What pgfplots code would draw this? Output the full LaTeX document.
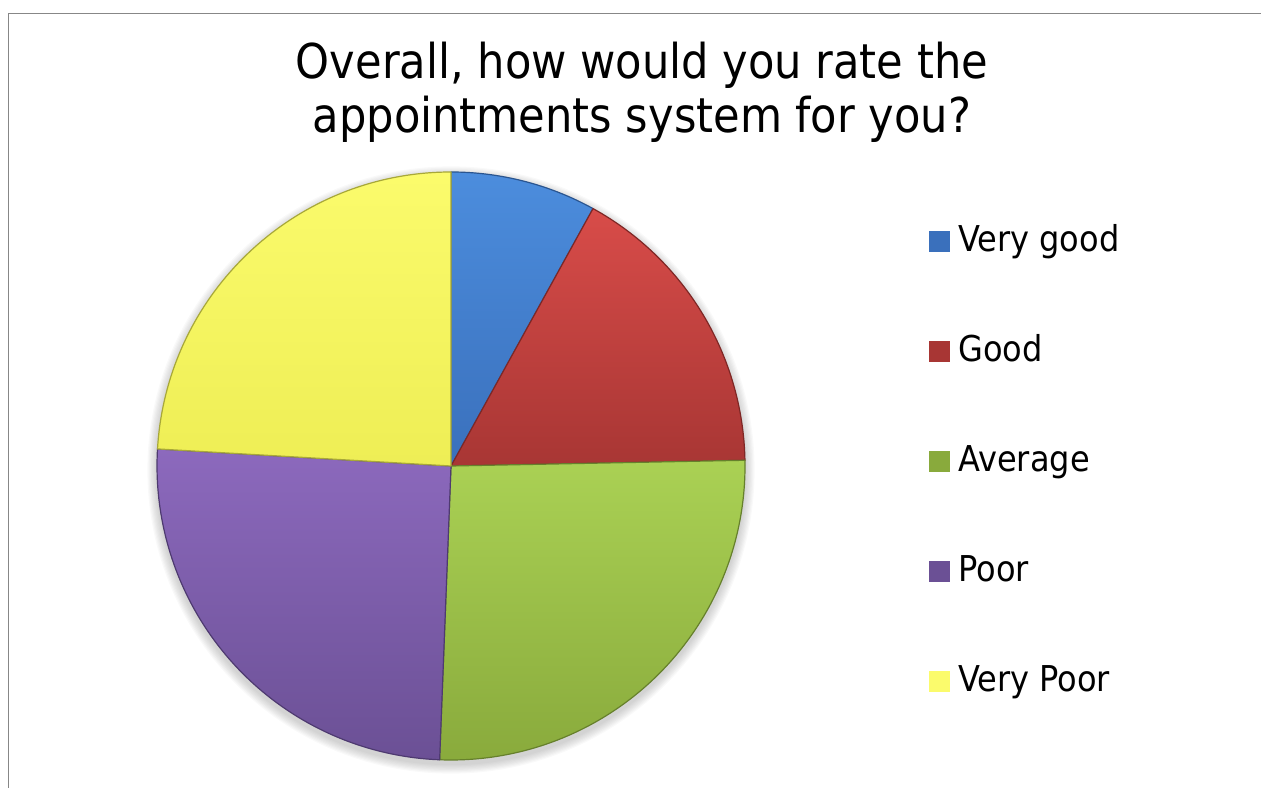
\documentclass[border=0pt]{standalone}
\usepackage{pgfplots}
\pgfplotsset{compat=1.18}
\usepackage{pgfplotstable}
\usepackage{fontspec}
\setmainfont{DejaVu Sans Condensed}

\definecolor{pie0t}{HTML}{4C8DDD}\definecolor{pie0b}{HTML}{3A70BC}\definecolor{pie0e}{HTML}{2A5590}
\definecolor{pie1t}{HTML}{D84C49}\definecolor{pie1b}{HTML}{A83634}\definecolor{pie1e}{HTML}{7E2725}
\definecolor{pie2t}{HTML}{AAD154}\definecolor{pie2b}{HTML}{89AA3C}\definecolor{pie2e}{HTML}{66802C}
\definecolor{pie3t}{HTML}{8C69BD}\definecolor{pie3b}{HTML}{6B5095}\definecolor{pie3e}{HTML}{4E3A70}
\definecolor{pie4t}{HTML}{FBFB6C}\definecolor{pie4b}{HTML}{EEEE55}\definecolor{pie4e}{HTML}{A8A838}
\definecolor{framegray}{HTML}{878787}

\pgfplotstableread{
label value
{Very good} 13
Good 27
Average 42
Poor 41
{Very Poor} 39
}\piedata

\begin{document}
\begin{tikzpicture}
\useasboundingbox (0,0) rectangle (630.5pt,393.5pt);
% chart area frame
\draw[line width=0.6pt, color=framegray] (4.25pt,-2pt) -- (4.25pt,386.6pt) -- (634pt,386.6pt);
% title
\node[anchor=base, inner sep=0pt, font=\fontsize{24pt}{28pt}\selectfont] at (321pt,354pt) {Overall, how would you rate the};
\node[anchor=base, inner sep=0pt, font=\fontsize{24pt}{28pt}\selectfont] at (321pt,327pt) {appointments system for you?};
% cumulative sums and angles
\def\runsum{0}
\pgfplotsforeachungrouped \i in {0,...,4}{%
  \expandafter\xdef\csname pieS\i\endcsname{\runsum}%
  \pgfplotstablegetelem{\i}{value}\of\piedata
  \pgfmathsetmacro\runsum{\runsum+\pgfplotsretval}%
  \expandafter\xdef\csname pieE\i\endcsname{\runsum}%
}
\xdef\pietotal{\runsum}
\pgfplotsforeachungrouped \i in {0,...,4}{%
  \pgfmathsetmacro\tmpa{90-360*(\csname pieS\i\endcsname/\pietotal)}%
  \expandafter\xdef\csname pieA\i\endcsname{\tmpa}%
  \pgfmathsetmacro\tmpb{90-360*(\csname pieE\i\endcsname/\pietotal)}%
  \expandafter\xdef\csname pieB\i\endcsname{\tmpb}%
}
\begin{axis}[
  at={(225.5pt,160.5pt)}, anchor=center,
  x=0.5pt, y=0.5pt,
  xmin=-300, xmax=300, ymin=-300, ymax=300,
  hide axis, clip=false,
  legend image code/.code={\fill[#1] (0pt,-4.5pt) rectangle (10.5pt,6pt);},
  legend cell align=left,
  legend style={at={(1.2967,0.895)}, anchor=north west, draw=none, fill=none,
    inner sep=0pt, row sep=41pt, column sep=4pt,
    font=\fontsize{17.8pt}{20pt}\selectfont,
    nodes={inner sep=0pt, text height=11pt, text depth=3pt}},
]
% soft shadow
\pgfplotsinvokeforeach{1,...,8}{
  \fill[black, opacity=0.025] (axis cs:0,-4) circle[radius={147pt+#1*0.6pt}];
}
\pgfplotsinvokeforeach{0,...,4}{
  \path[draw=pie#1e, line width=0.6pt, top color=pie#1t, bottom color=pie#1b, line join=round]
    (axis cs:0,0) -- ++(\csname pieA#1\endcsname:147pt)
    arc[start angle=\csname pieA#1\endcsname, end angle=\csname pieB#1\endcsname, radius=147pt] -- cycle;
}
\addlegendimage{fill=pie0b, draw=none}\addlegendentry{Very good}
\addlegendimage{fill=pie1b, draw=none}\addlegendentry{Good}
\addlegendimage{fill=pie2b, draw=none}\addlegendentry{Average}
\addlegendimage{fill=pie3b, draw=none}\addlegendentry{Poor}
\addlegendimage{fill=pie4t, draw=none}\addlegendentry{Very Poor}
\end{axis}
\end{tikzpicture}
\end{document}
